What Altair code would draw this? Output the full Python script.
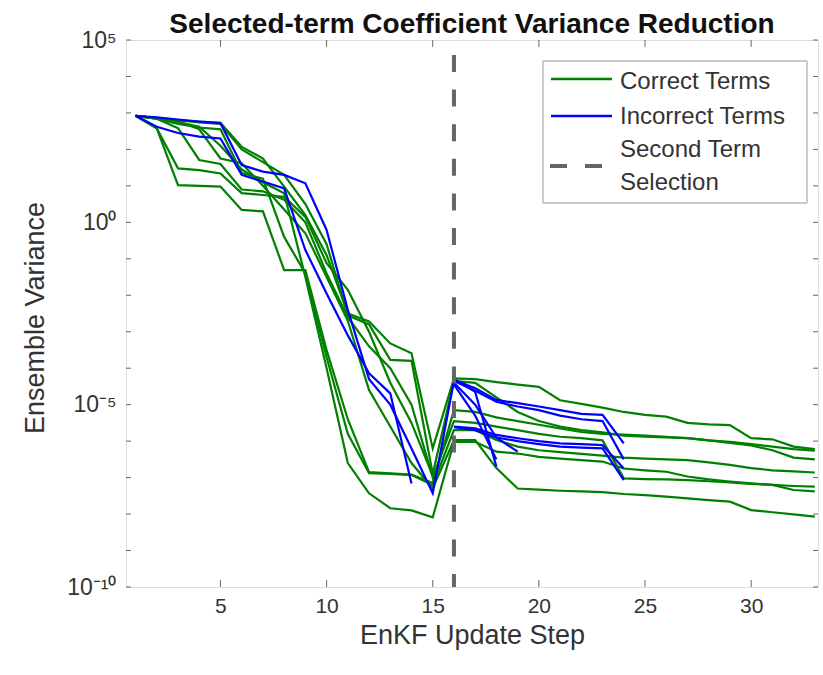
import altair as alt
import pandas as pd

# ---------------- data (log10 of ensemble variance per EnKF update step) ----------------
# correct terms (green): start step, values
c1 = [2.92, 2.86, 2.80, 2.76, 2.73, 2.07, 1.75, 0.98, 0.20, -0.90, -2.50, -2.72, -3.32, -3.59, -6.20,
      -4.28, -4.30, -4.38, -4.45, -4.51, -4.88, -4.98, -5.08, -5.20, -5.28, -5.33, -5.50, -5.54, -5.56, -5.92, -5.95, -6.15, -6.22]
c2 = [2.92, 2.86, 2.80, 2.74, 2.70, 2.00, 1.65, 1.30, 0.50, -0.60, -2.55, -2.80, -3.77, -3.80, -6.90,
      -4.35, -4.40, -4.80, -5.20, -5.45, -5.60, -5.70, -5.76, -5.85, -5.88, -5.90, -5.92, -5.98, -6.02, -6.08, -6.15, -6.22, -6.26]
c3 = [2.92, 2.58, 1.48, 1.43, 1.34, 0.80, 0.75, 0.70, 0.15, -1.12, -1.85, -3.00, -4.40, -5.50, -6.95]
c4 = [2.92, 2.58, 1.02, 1.00, 0.98, 0.34, 0.30, -1.31, -1.31, -3.50, -5.40, -6.85, -6.88, -6.92, -7.15,
      -5.15, -5.20, -5.35, -5.45, -5.55, -5.65, -5.75, -5.80, -5.82, -5.85, -5.88, -5.92, -5.98, -6.05, -6.12, -6.25, -6.45, -6.50]
c5 = [2.92, 2.84, 2.58, 1.71, 1.60, 0.90, 0.85, 0.62, 0.00, -1.40, -2.60, -3.40, -4.00, -5.00, -7.00,
      -5.45, -5.50, -5.60, -5.70, -5.80, -5.88, -5.92, -5.98, -7.02, -7.04, -7.05, -7.07, -7.10, -7.13, -7.17, -7.20, -7.23, -7.25]
c6 = [2.92, 2.84, 2.78, 2.55, 1.75, 1.62, 1.00, 0.35, -0.30, -1.50, -2.70, -4.60, -5.60, -6.60, -7.30,
      -5.97, -5.97, -6.74, -7.30, -7.33, -7.36, -7.38, -7.40, -7.45, -7.48, -7.52, -7.57, -7.62, -7.66, -7.89, -7.95, -8.01, -8.07]
c7 = [2.92, 2.86, 2.75, 2.62, 2.10, 1.45, 1.10, 0.80, -1.50, -4.00, -6.60, -7.43, -7.84, -7.90, -8.09,
      -6.02, -6.02, -6.29, -6.34, -6.43, -6.48, -6.52, -6.56, -6.75, -6.80, -6.84, -6.97, -7.05, -7.11, -7.16, -7.20, -7.34, -7.38]
c8 = [2.92, 2.84, 2.70, 2.60, 2.55, 1.35, 1.20, -0.40, -1.40, -3.70, -5.80, -6.88, -6.90, -6.93, -7.20,
      -5.70, -5.70, -5.97, -6.15, -6.25, -6.30, -6.35, -6.40, -6.45, -6.48, -6.50, -6.52, -6.58, -6.65, -6.74, -6.80, -6.83, -6.86]
correct_starts = [1, 1, 1, 1, 1, 1, 1, 1]
correct_series = [c1, c2, c3, c4, c5, c6, c7, c8]

# incorrect terms (blue)
i1 = [2.92, 2.88, 2.82, 2.76, 2.72, 1.57, 1.39, 1.30, 1.07, -0.21, -2.40, -4.30, -5.00, -6.20, -7.43,
      -4.35, -4.62, -4.92, -5.05, -5.15, -5.30, -5.40, -5.45, -6.50]
i2 = [2.92, 2.62, 2.45, 2.35, 2.30, 1.30, 1.12, 0.93, -0.76, -1.95, -3.10, -4.14, -4.69, -7.16]
i3 = [-4.32, -4.55, -4.87, -4.96, -5.05, -5.15, -5.25, -5.28, -6.06]
i4 = [-5.60, -5.65, -5.83, -5.92, -6.00, -6.06, -6.08, -6.11, -6.75]
i5 = [-5.62, -5.70, -5.90, -6.00, -6.08, -6.15, -6.18, -6.20, -7.07]
i6 = [-4.30, -4.65, -6.70]
i7 = [-4.40, -5.00, -5.90, -6.29]
i8 = [-4.45, -5.30, -6.50]
incorrect_starts = [1, 1, 16, 16, 16, 16, 16, 16]
incorrect_series = [i1, i2, i3, i4, i5, i6, i7, i8]

selection_step = [16]
x_ticks = [5, 10, 15, 20, 25, 30]
y_decades = [1e-10, 1e-9, 1e-8, 1e-7, 1e-6, 1e-5, 1e-4, 1e-3, 1e-2, 1e-1, 1, 1e1, 1e2, 1e3, 1e4, 1e5]
y_label_values = [1e-10, 1e-5, 1, 1e5]
legend_labels = ["Correct Terms", "Incorrect Terms", "Second Term", " Selection"]

GREEN = "#008000"
BLUE = "#0000ff"
GRAY = "#666666"
FONT = "Liberation Sans"
W, H = 692, 547

rows = []
for k, (s, vals) in enumerate(zip(correct_starts, correct_series)):
    for j, v in enumerate(vals):
        rows.append({"term": f"c{k}", "kind": "Correct Terms", "step": s + j, "variance": 10 ** v})
for k, (s, vals) in enumerate(zip(incorrect_starts, incorrect_series)):
    for j, v in enumerate(vals):
        rows.append({"term": f"i{k}", "kind": "Incorrect Terms", "step": s + j, "variance": 10 ** v})
df = pd.DataFrame(rows)

xscale = alt.Scale(domain=[0.55, 33.15], nice=False, zero=False)
yscale = alt.Scale(type="log", domain=[1e-10, 1e5], nice=False)

label_expr = ("datum.value > 1e4 ? '10\u2075' : datum.value > 0.5 ? '10\u2070' : "
              "datum.value > 1e-6 ? '10\u207b\u2075' : '10\u207b\u00b9\u2070'")

x_enc = alt.X("step:Q", scale=xscale, axis=alt.Axis(
    values=x_ticks, title="EnKF Update Step", domain=False, ticks=False, grid=False,
    labelFontSize=21, labelPadding=8, labelColor="#333333", labelFont=FONT,
    titleFontSize=27, titleFontWeight="normal", titleColor="#333333", titleFont=FONT,
    titleX=W / 2, titleY=48, titleBaseline="middle", titleAnchor="middle"))
y_enc = alt.Y("variance:Q", scale=yscale, axis=alt.Axis(
    values=y_label_values, labelExpr=label_expr, title="Ensemble Variance", domain=False,
    ticks=False, grid=False, labelFontSize=23, labelPadding=10, labelColor="#333333", labelFont=FONT,
    titleFontSize=27, titleFontWeight="normal", titleColor="#333333", titleFont=FONT,
    titleX=-91, titleY=H / 2 + 4, titleAngle=-90, titleBaseline="middle", titleAlign="center"))

green = alt.Chart(df).transform_filter(alt.datum.kind == "Correct Terms").mark_line(
    color=GREEN, strokeWidth=2.2, strokeJoin="miter", clip=True).encode(x=x_enc, y=y_enc, detail="term:N", order="step:Q")
blue = alt.Chart(df).transform_filter(alt.datum.kind == "Incorrect Terms").mark_line(
    color=BLUE, strokeWidth=2.2, strokeJoin="miter", clip=True).encode(
    x=alt.X("step:Q", scale=xscale), y=alt.Y("variance:Q", scale=yscale), detail="term:N", order="step:Q")

vline = alt.Chart(pd.DataFrame({"step": selection_step})).mark_rule(
    color=GRAY, strokeWidth=4, strokeDash=[17, 17.6], strokeDashOffset=19.6).encode(
    x=alt.X("step:Q", scale=xscale))

# inward tick marks (MATLAB style box)
xt = pd.DataFrame({"step": x_ticks})
xt_bottom = alt.Chart(xt).mark_rule(color=GRAY, strokeWidth=1).encode(
    x=alt.X("step:Q", scale=xscale), y=alt.value(H), y2=alt.value(H - 7))
xt_top = alt.Chart(xt).mark_rule(color=GRAY, strokeWidth=1).encode(
    x=alt.X("step:Q", scale=xscale), y=alt.value(0), y2=alt.value(7))
yt = pd.DataFrame({"variance": y_decades})
yt_left = alt.Chart(yt).mark_rule(color=GRAY, strokeWidth=1).encode(
    y=alt.Y("variance:Q", scale=yscale), x=alt.value(0), x2=alt.value(5))
yt_right = alt.Chart(yt).mark_rule(color=GRAY, strokeWidth=1).encode(
    y=alt.Y("variance:Q", scale=yscale), x=alt.value(W), x2=alt.value(W - 5))

# legend box
one = pd.DataFrame({"k": [0]})
leg_box = alt.Chart(one).mark_rect(fill="white", stroke="#999999", strokeWidth=1).encode(
    x=alt.value(417), x2=alt.value(681), y=alt.value(21), y2=alt.value(163))
leg_g = alt.Chart(one).mark_rule(color=GREEN, strokeWidth=2.5).encode(
    x=alt.value(425), x2=alt.value(486), y=alt.value(39))
leg_b = alt.Chart(one).mark_rule(color=BLUE, strokeWidth=2.5).encode(
    x=alt.value(425), x2=alt.value(486), y=alt.value(76))
leg_d = alt.Chart(one).mark_rule(color=GRAY, strokeWidth=4, strokeDash=[17, 18]).encode(
    x=alt.value(424), x2=alt.value(477), y=alt.value(126))
txt_kw = dict(align="left", baseline="middle", fontSize=24, font=FONT, color="#333333")
leg_t1 = alt.Chart(one).mark_text(**txt_kw).encode(x=alt.value(494), y=alt.value(42), text=alt.value(legend_labels[0]))
leg_t2 = alt.Chart(one).mark_text(**txt_kw).encode(x=alt.value(494), y=alt.value(77), text=alt.value(legend_labels[1]))
leg_t3 = alt.Chart(one).mark_text(**txt_kw).encode(x=alt.value(494), y=alt.value(110), text=alt.value(legend_labels[2]))
leg_t4 = alt.Chart(one).mark_text(**txt_kw).encode(x=alt.value(494), y=alt.value(143), text=alt.value(legend_labels[3]))

chart = alt.layer(
    green, blue, vline, xt_bottom, xt_top, yt_left, yt_right,
    leg_box, leg_g, leg_b, leg_d, leg_t1, leg_t2, leg_t3, leg_t4
).properties(
    width=W, height=H,
    title=alt.TitleParams("Selected-term Coefficient Variance Reduction", fontSize=28,
                          fontWeight="bold", font=FONT, color="#111111", anchor="middle",
                          offset=10, dy=20),
    padding={"left": 126, "top": 40, "right": 5, "bottom": 88},
    autosize=alt.AutoSizeParams(type="none"),
).configure_view(stroke=GRAY, strokeWidth=1).configure(background="white")

chart.save("out.html", embed_options={"renderer": "svg", "actions": False})
